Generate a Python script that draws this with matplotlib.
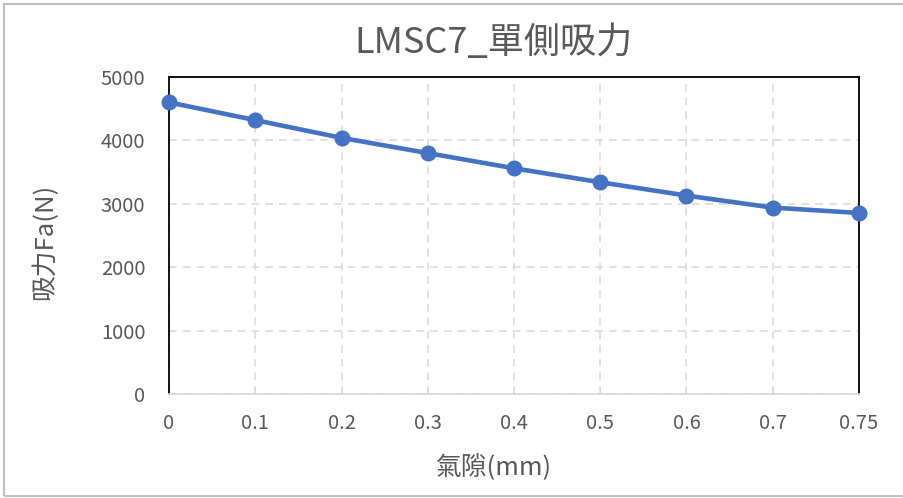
import matplotlib
matplotlib.use("Agg")
import matplotlib.pyplot as plt
from matplotlib.patches import Rectangle

plt.rcParams['font.family'] = ['Noto Sans CJK TC', 'DejaVu Sans']

categories = ['0', '0.1', '0.2', '0.3', '0.4', '0.5', '0.6', '0.7', '0.75']
force = [4600, 4320, 4040, 3800, 3560, 3340, 3130, 2940, 2855]
yticks = [0, 1000, 2000, 3000, 4000, 5000]

title = 'LMSC7_單側吸力'
xlabel = '氣隙(mm)'
ylabel = '吸力Fa(N)'

W, H = 904, 498
fig = plt.figure(figsize=(W / 100, H / 100), dpi=100)
ax = fig.add_axes([169 / W, 1 - 394 / H, (859 - 169) / W, (394 - 77) / H])

# outer chart border
fig.patches.append(Rectangle((4 / W, 2 / H), 1.2, 492 / H, transform=fig.transFigure,
                             fill=False, edgecolor='#BFBFBF', linewidth=1.5))

x = list(range(len(categories)))
ax.plot(x, force, color='#4472C4', linewidth=3.3, marker='o', markersize=10.5,
        zorder=5, clip_on=False)

ax.set_xlim(0, len(categories) - 1)
ax.set_ylim(0, 5000)
ax.set_xticks(x)
ax.set_xticklabels(categories)
ax.set_yticks(yticks)

grey = '#595959'
ax.grid(True, color='#D9D9D9', linestyle=(0, (5, 4)), linewidth=1.1)
ax.set_axisbelow(True)
for s in ['left', 'right', 'top']:
    ax.spines[s].set_color('black')
    ax.spines[s].set_linewidth(1.3)
ax.spines['bottom'].set_color('#D9D9D9')
ax.spines['bottom'].set_linewidth(1.3)

ax.tick_params(axis='x', direction='in', length=5, color='#D9D9D9', labelcolor=grey,
               labelsize=14.5, pad=14)
ax.tick_params(axis='y', length=0, labelcolor=grey, labelsize=14.5, pad=17)

fig.text(494 / W, 1 - 43 / H, title, fontsize=26, color=grey, ha='center', va='center')
fig.text(494 / W, 1 - 467 / H, xlabel, fontsize=18.5, color=grey, ha='center', va='center')
fig.text(45 / W, 1 - 242 / H, ylabel, fontsize=18.5, color=grey, ha='center', va='center',
         rotation=90)

fig.savefig('out.png', dpi=100)
